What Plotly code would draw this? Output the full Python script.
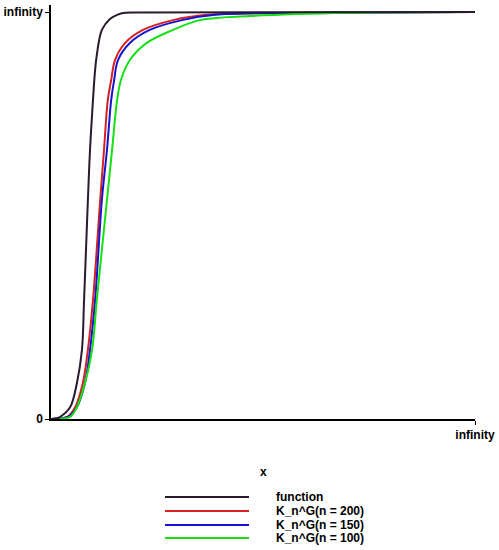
import plotly.graph_objects as go

# curve samples, x and y both scaled 0..100 ("infinity" = 100)
func_x = [0, 1.2, 2.1, 4.5, 6.1, 7.3, 7.8, 8.7, 9.2, 9.9, 10.4, 10.8, 12.0, 13.9, 15.6, 17.5, 20.3, 100]
func_y = [0, 0.1, 0.5, 2.9, 8.8, 17.0, 29.2, 53.8, 66.1, 78.4, 85.7, 89.4, 95.6, 98.3, 99.3, 99.8, 99.9, 100]

n200_x = [0, 1.7, 3.8, 5.7, 7.5, 8.7, 9.9, 11.6, 12.5, 13.4, 14.2, 15.1, 17.5, 21.7, 28.8, 36.8, 58.7, 100]
n200_y = [0, 0.1, 0.5, 2.9, 8.8, 17.0, 29.2, 53.8, 66.1, 78.4, 83.3, 88.2, 92.4, 95.6, 98.0, 99.3, 99.8, 100]

n150_x = [0, 1.7, 4.0, 6.1, 8.0, 9.2, 10.4, 12.0, 13.2, 14.2, 14.9, 15.8, 18.6, 23.3, 30.9, 38.7, 63.4, 100]
n150_y = [0, 0.1, 0.5, 2.9, 8.8, 17.0, 29.2, 53.8, 66.1, 78.4, 83.3, 88.2, 92.4, 95.6, 98.0, 99.3, 99.8, 100]

n100_x = [0, 2.1, 4.5, 6.1, 8.0, 9.7, 10.8, 13.2, 14.4, 15.6, 16.5, 18.6, 22.6, 28.8, 35.1, 46.9, 70.5, 100]
n100_y = [0, 0.1, 0.5, 2.9, 8.8, 17.0, 29.2, 53.8, 66.1, 78.4, 83.3, 88.2, 92.4, 95.6, 98.0, 99.0, 99.8, 100]

names = ['function', 'K_n^G(n = 200)', 'K_n^G(n = 150)', 'K_n^G(n = 100)']
colors = ['#2a1a30', '#d42020', '#1414d0', '#14e014']

FONT = 'Liberation Sans'

fig = go.Figure()
# dark "function" curve last so it sits on top
for xs, ys, nm, c in zip([n200_x, n150_x, n100_x, func_x],
                         [n200_y, n150_y, n100_y, func_y], names[1:] + names[:1],
                         colors[1:] + colors[:1]):
    fig.add_trace(go.Scatter(x=xs, y=ys, mode='lines', name=nm,
                             line=dict(color=c, width=2, shape='spline', smoothing=1)))

W, H = 499, 550
L, R, T, B = 51, 24, 5, 131
pw, ph = W - L - R, H - T - B
def px(x): return (x - L) / pw
def py(y): return (H - B - y) / ph

# hand-made legend under the plot (long line samples like the original)
row_y = [497, 511, 525, 538]
for nm, c, ry in zip(names, colors, row_y):
    fig.add_shape(type='line', xref='paper', yref='paper',
                  x0=px(165), x1=px(249), y0=py(ry), y1=py(ry),
                  line=dict(color=c, width=2))
    fig.add_annotation(xref='paper', yref='paper', x=px(274), y=py(ry),
                       text='<b>' + nm + '</b>', showarrow=False,
                       xanchor='left', yanchor='middle',
                       font=dict(family=FONT, size=12, color='black'))

fig.add_annotation(xref='paper', yref='paper', x=0.5, y=py(472),
                   text='<b>x</b>', showarrow=False, yanchor='middle',
                   font=dict(family=FONT, size=12, color='black'))

fig.update_layout(
    width=W, height=H,
    margin=dict(l=L, r=R, t=T, b=B, autoexpand=False),
    paper_bgcolor='white', plot_bgcolor='white',
    showlegend=False,
    font=dict(family=FONT, size=12, color='black'),
    xaxis=dict(range=[0, 100], showgrid=False, zeroline=False, automargin=False,
               showline=True, linecolor='black', linewidth=1.5,
               ticks='outside', ticklen=4, tickcolor='black',
               tickvals=[100], ticktext=['<b>infinity</b>']),
    yaxis=dict(range=[0, 101.72], showgrid=False, zeroline=False, automargin=False,
               showline=True, linecolor='black', linewidth=1.5,
               ticks='outside', ticklen=4, tickcolor='black',
               tickvals=[0, 100], ticktext=['<b>0</b>', '<b>infinity</b>']),
)

# drop the browser's default 8px body margin so the figure fills the window
fig.write_html("out.html", config={'displayModeBar': False},
               post_script="document.body.style.margin='0';")
